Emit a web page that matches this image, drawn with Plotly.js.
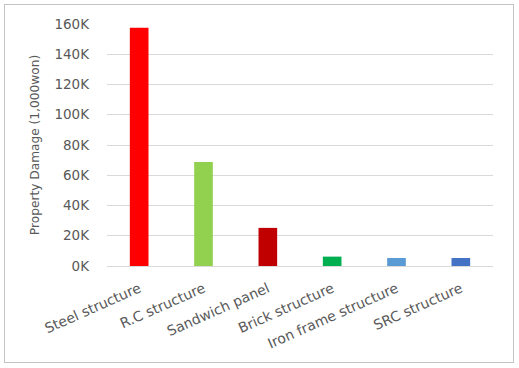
<!DOCTYPE html>
<html>
<head>
<meta charset="utf-8">
<script src="https://cdn.plot.ly/plotly-3.0.1.min.js"></script>
<style>
html,body{margin:0;padding:0;background:#fff;}
#wrap{position:relative;width:519px;height:368px;}
#chart{position:absolute;left:0;top:0;width:519px;height:368px;}
#frame{position:absolute;left:4px;top:4px;width:508px;height:357px;border:1px solid #c4c4c4;pointer-events:none;}
</style>
</head>
<body>
<div id="wrap"><div id="chart"></div><div id="frame"></div></div>
<script>
const categories = ["Steel structure", "R.C structure", "Sandwich panel", "Brick structure", "Iron frame structure", "SRC structure"];
const damage = [157500, 68800, 25200, 6200, 5300, 5300];
const barColors = ["#FF0000", "#92D050", "#C00000", "#00B050", "#5B9BD5", "#4472C4"];
const yTickVals = [0, 20000, 40000, 60000, 80000, 100000, 120000, 140000, 160000];
const yTickText = ["0K", "20K", "40K", "60K", "80K", "100K", "120K", "140K", "160K"];

const font = "DejaVu Sans, Open Sans, sans-serif";
Plotly.newPlot("chart", [{
  type: "bar",
  x: categories,
  y: damage,
  marker: {color: barColors},
  hoverinfo: "none"
}], {
  width: 519, height: 368,
  margin: {l: 107, r: 26, t: 24, b: 102},
  paper_bgcolor: "#fff", plot_bgcolor: "#fff",
  bargap: 0.71,
  showlegend: false,
  font: {family: font, color: "#595959", size: 13},
  xaxis: {
    type: "category",
    tickangle: -24,
    showgrid: false, zeroline: false, showline: false,
    ticks: "", tickfont: {size: 14, color: "#595959"},
    ticklabelstandoff: 11
  },
  yaxis: {
    range: [0, 160000],
    tickvals: yTickVals, ticktext: yTickText,
    showgrid: true, gridcolor: "#d9d9d9", gridwidth: 1,
    zeroline: true, zerolinecolor: "#d9d9d9", zerolinewidth: 1,
    showline: false, ticks: "",
    tickfont: {size: 13.5, color: "#595959"},
    ticklabelstandoff: 17,
    title: {text: "Property Damage (1,000won)", font: {size: 12.2, color: "#595959"}, standoff: 12}
  }
}, {staticPlot: true});
</script>
</body>
</html>
